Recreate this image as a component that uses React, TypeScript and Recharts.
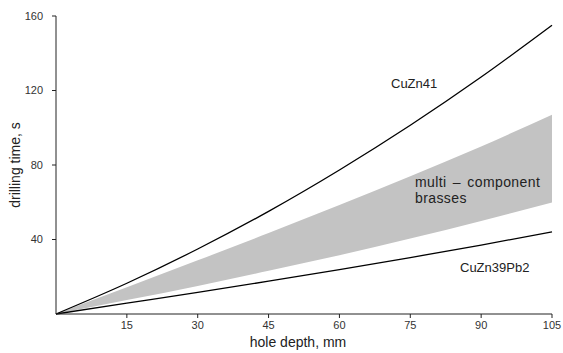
import { ComposedChart, Line, Area, XAxis, YAxis } from "recharts";

const depth = [0, 15, 30, 45, 60, 75, 90, 105];
const cuZn41 = [0, 16.5, 34.9, 55.1, 77.3, 101.3, 127.2, 155];
const multiHigh = [0, 14.3, 28.8, 43.5, 58.5, 74, 90, 107];
const multiLow = [0, 7.5, 15.1, 23.2, 31.5, 40.5, 50, 59.8];
const cuZn39Pb2 = [0, 5.8, 11.6, 17.6, 23.8, 30.3, 37, 44.1];
const xTicks = [15, 30, 45, 60, 75, 90, 105];
const yTicks = [40, 80, 120, 160];

const data = depth.map((d, i) => ({
  depth: d,
  cuZn41: cuZn41[i],
  band: [multiLow[i], multiHigh[i]],
  cuZn39Pb2: cuZn39Pb2[i],
}));

const font = "'Liberation Sans', Arial, sans-serif";
const tickStyle = { fontSize: 11, fill: "#333", fontFamily: font };

export default function App() {
  return (
    <div style={{ position: "absolute", left: 0, top: 0, width: 563, height: 353, fontFamily: font }}>
      <ComposedChart width={563} height={353} data={data} margin={{ top: 16, right: 11, bottom: 0, left: 0 }}>
        <XAxis
          dataKey="depth"
          type="number"
          domain={[0, 105]}
          ticks={xTicks}
          tickSize={4}
          tickMargin={3}
          height={39}
          stroke="#222"
          tick={tickStyle}
          label={{ value: "hole depth, mm", position: "insideBottom", offset: 6, dx: -6, style: { fontSize: 14, fill: "#222", fontFamily: font } }}
        />
        <YAxis
          type="number"
          domain={[0, 160]}
          ticks={yTicks}
          tickSize={4}
          tickMargin={9}
          width={56}
          stroke="#222"
          tick={tickStyle}
          label={{ value: "drilling time, s", angle: -90, position: "insideLeft", offset: 15, style: { fontSize: 14, fill: "#222", fontFamily: font, textAnchor: "middle" } }}
        />
        <Area dataKey="band" type="monotone" stroke="none" fill="#c3c3c3" fillOpacity={1} isAnimationActive={false} />
        <Line dataKey="cuZn41" type="monotone" stroke="#000" strokeWidth={1.3} dot={false} isAnimationActive={false} />
        <Line dataKey="cuZn39Pb2" type="monotone" stroke="#000" strokeWidth={1.3} dot={false} isAnimationActive={false} />
      </ComposedChart>
      <div style={{ position: "absolute", left: 391, top: 77, fontSize: 13, lineHeight: "14px", color: "#222" }}>CuZn41</div>
      <div style={{ position: "absolute", left: 415, top: 174, fontSize: 14, lineHeight: "16px", color: "#222", letterSpacing: "0.4px", wordSpacing: "2px" }}>
        multi – component
        <br />
        brasses
      </div>
      <div style={{ position: "absolute", left: 460, top: 261, fontSize: 13, lineHeight: "14px", color: "#222" }}>CuZn39Pb2</div>
    </div>
  );
}
